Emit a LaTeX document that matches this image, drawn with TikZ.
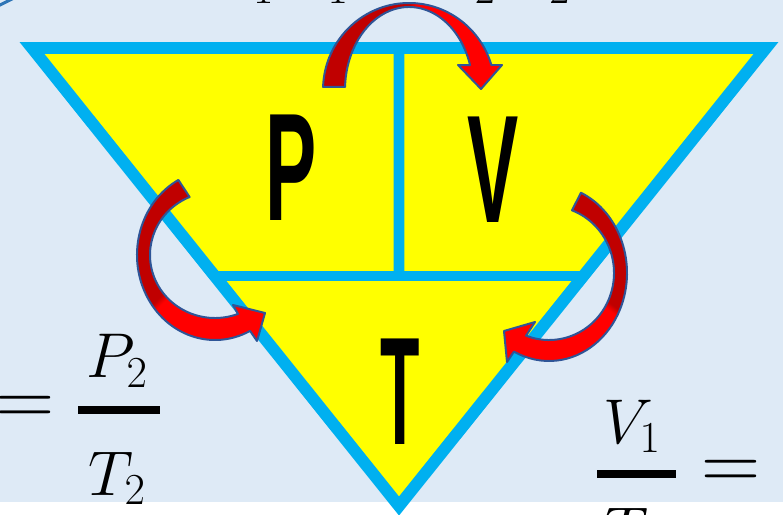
\RequirePackage{fix-cm}
\documentclass[tikz,border=0pt]{standalone}
\usepackage{amsmath}
\usepackage{graphicx}
\usepackage{fontspec}
\usepackage{xcolor}
\usepackage{tikz}
\usetikzlibrary{calc}
\newfontfamily\letterfont{Liberation Sans}
\definecolor{gsky}{HTML}{DEEAF6}
\definecolor{gcyan}{HTML}{00B0F0}
\definecolor{gyellow}{HTML}{FFFF00}
\definecolor{gdark}{HTML}{C00000}
\definecolor{gbright}{HTML}{FF0000}
\definecolor{gedge}{HTML}{2F5597}
\definecolor{gcorner}{HTML}{2E75B6}
\newcommand{\gasletter}[2][0.5]{\scalebox{#1}[1]{\letterfont\bfseries #2}}
\pgfdeclarehorizontalshading{halfred}{100bp}{color(0bp)=(gdark); color(49bp)=(gdark);
  color(51bp)=(gbright); color(100bp)=(gbright)}
\tikzset{
  gtri/.style={draw=gcyan, fill=gyellow, line width=10.2pt, line join=miter},
  gdiv/.style={draw=gcyan, line width=9pt},
  gletter/.style={inner sep=0pt, font=\fontsize{131}{140}\selectfont},
  gmath/.style={inner sep=0pt, font=\fontsize{54}{60}\selectfont},
  geq/.style={inner sep=0pt, font=\fontsize{70}{76}\selectfont},
  gbar/.style={line width=7.3pt},
  garrow/.style={draw=gedge, line width=1.7pt, shade, shading=halfred, line join=round},
}

\begin{document}
\begin{tikzpicture}[x=0.03cm,y=-0.03cm]
  \useasboundingbox (0,0) rectangle (783,515);
  \fill[gsky] (0,0) rectangle (783,502);
  \draw[gcorner, line width=2.5pt] (-2,6) -- (14,-2);

  % --- triangle PVT ---
  \coordinate (tl) at (32,48);
  \coordinate (tr) at (766,48);
  \coordinate (bt) at (399,506);
  \draw[gtri] (tl) -- (tr) -- (bt) -- cycle;
  \draw[gdiv] ($(tl)!0.498!(bt)$) coordinate (ml) -- ($(tr)!0.498!(bt)$) coordinate (mr);
  \draw[gdiv] ($(tl)!0.5!(tr)$) -- ($(ml)!0.5!(mr)$);

  \node[gletter] (p) at (291,168) {\gasletter{P}};
  \node[gletter] (v) at (493,170) {\gasletter{V}};
  \node[gletter] (t) at (400,392) {\gasletter[0.42]{T}};

  % --- curved arrows ---
  \coordinate (ctop) at (409,90);
  \coordinate (cleft) at (215,255);
  \coordinate (cright) at (549,273);
  \path[garrow] ([shift={(182:86 and 87)}]ctop)
      arc[start angle=182, end angle=343.3, x radius=86, y radius=87]
      -- (502,65) -- (481,89) -- (458,65)
      -- ([shift={(342.5:64 and 83)}]ctop)
      arc[start angle=342.5, end angle=182.1, x radius=64, y radius=83] -- cycle;
  \path[garrow, shading angle=-45] ([shift={(242:78 and 85)}]cleft)
      arc[start angle=242, end angle=63.3, x radius=78, y radius=85]
      -- (257,341) -- (265,313) -- (233,305)
      -- ([shift={(69.3:65 and 63)}]cleft)
      arc[start angle=69.3, end angle=247, x radius=65, y radius=63] -- cycle;
  \path[garrow, shading angle=-127] ([shift={(-65.8:78 and 88)}]cright)
      arc[start angle=-65.8, end angle=116.7, x radius=78, y radius=88]
      -- (507,362) -- (504,331) -- (535,322)
      -- ([shift={(110.7:65 and 67)}]cright)
      arc[start angle=110.7, end angle=-69.3, x radius=65, y radius=67] -- cycle;

  % --- formulas, cut by the edges ---
  \node[gmath, anchor=base west] (top) at (213,-5.5)
      {$P_1\mkern5mu V_1\mkern1.6mu=P_2\mkern5mu V_2$};

  \node[gmath, anchor=base] (lnum) at (117,378) {$P_2$};
  \node[gmath, anchor=base] (lden) at (117,495) {$T_2$};
  \draw[gbar] (78,410) -- (160,410);
  \node[geq, anchor=base east] (leq) at (55,425.5) {$=$};

  \node[gmath, anchor=base] (rnum) at (632,443) {$V_1$};
  \node[gmath, anchor=base] (rden) at (632,551) {$T_1$};
  \draw[gbar] (597,474) -- (676,474);
  \node[geq, anchor=base] (req) at (731.5,489.5) {$=$};
\end{tikzpicture}
\end{document}
